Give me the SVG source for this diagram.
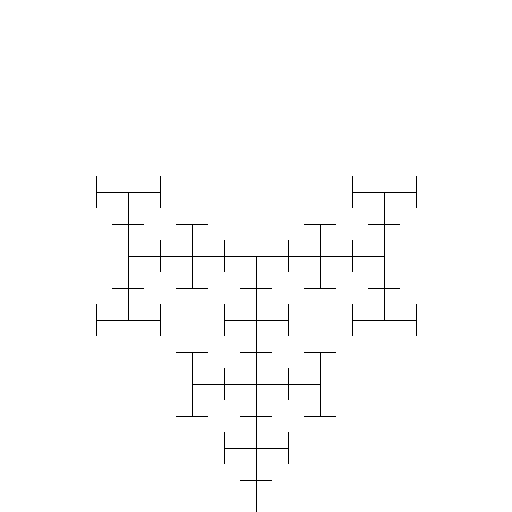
<svg xmlns="http://www.w3.org/2000/svg" width="512" height="512" viewBox="0 0 512 512">
<style>
.t{fill:none;stroke:#000;stroke-width:1;shape-rendering:crispEdges}
</style>
<rect width="512" height="512" fill="#fff"/>
<g id="htree" class="t">
<!-- left top H -->
<path d="M96 192H160M96 176V208M160 176V208M128 192V320M112 224H144M112 288H144M96 320H160M96 304V336M160 304V336"/>
<!-- left horizontal arm -->
<path d="M128 256H384M160 240V272M224 240V272M192 224V288M176 224H208M176 288H208"/>
<!-- right side -->
<path d="M352 192H416M352 176V208M416 176V208M384 192V320M368 224H400M368 288H400M352 320H416M352 304V336M416 304V336"/>
<path d="M288 240V272M352 240V272M320 224V288M304 224H336M304 288H336"/>
<!-- center stem -->
<path d="M256 256V512M240 288H272M224 320H288M224 304V336M288 304V336M240 352H272"/>
<path d="M192 384H320M192 352V416M320 352V416M176 352H208M176 416H208M304 352H336M304 416H336M224 368V400M288 368V400M240 416H272"/>
<path d="M224 448H288M224 432V464M288 432V464M240 480H272"/>
</g>
</svg>
